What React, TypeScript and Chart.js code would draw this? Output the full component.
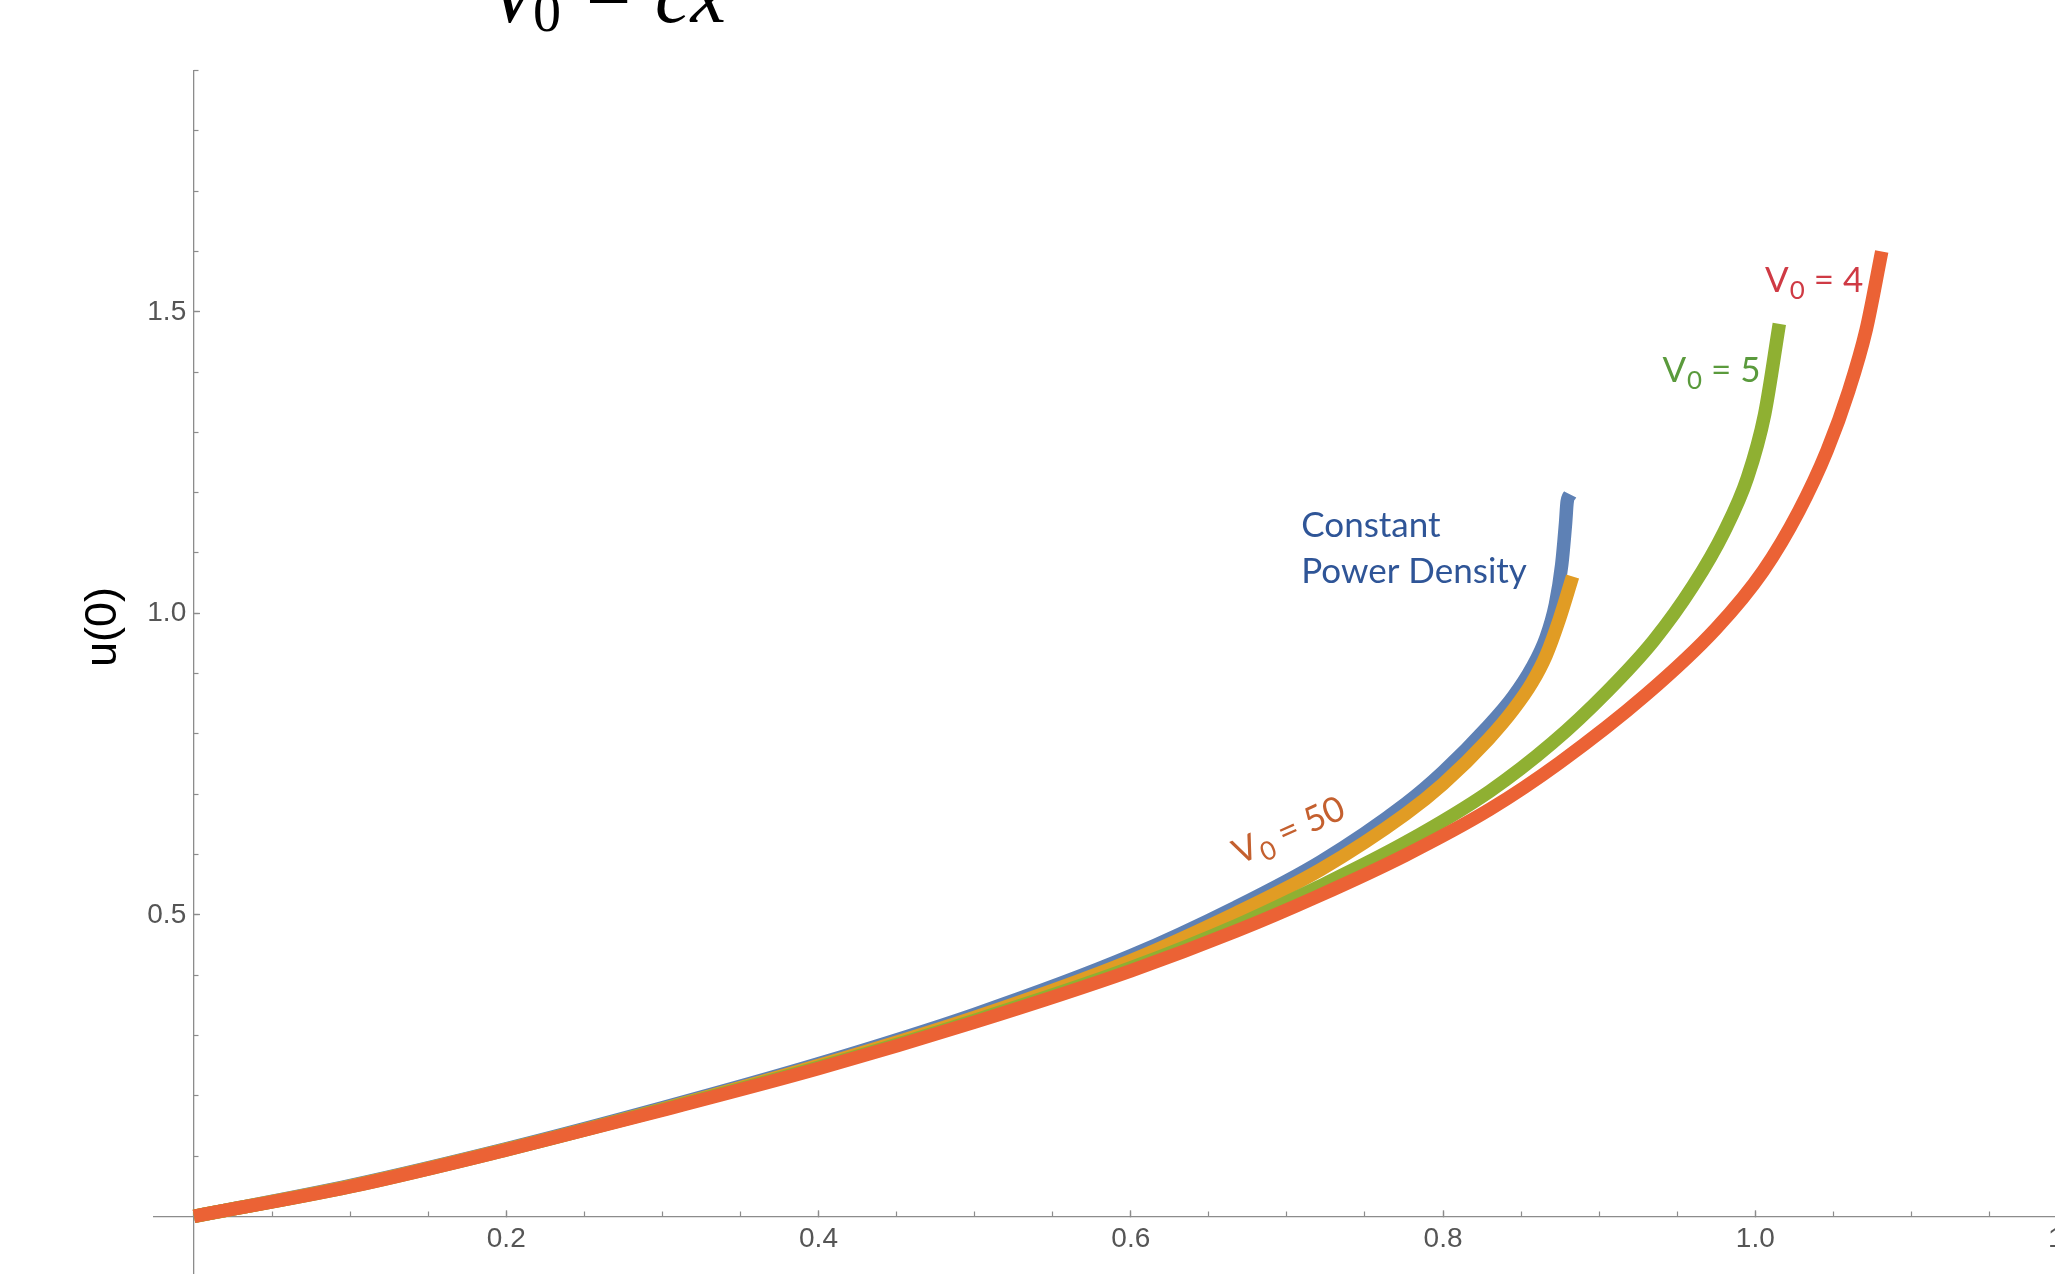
import React, { useEffect, useRef } from 'react';
import { Chart, registerables } from 'chart.js';

Chart.register(...registerables);

// ---- data ----
const X_V4 = [0, 0.1, 0.2, 0.3, 0.4, 0.5, 0.6, 0.6675, 0.72, 0.776, 0.83, 0.8745, 0.93, 0.975, 1.005, 1.028, 1.046, 1.06, 1.071, 1.081];
const Y_V4 = [0, 0.049, 0.11, 0.176, 0.245, 0.322, 0.407, 0.473, 0.531, 0.599, 0.675, 0.752, 0.865, 0.975, 1.07, 1.17, 1.27, 1.37, 1.47, 1.6];

const X_V5 = [0, 0.1, 0.2, 0.3, 0.4, 0.5, 0.6, 0.6675, 0.72, 0.776, 0.83, 0.87, 0.905, 0.935, 0.96, 0.98, 0.995, 1.006, 1.0154];
const Y_V5 = [0, 0.049, 0.11, 0.177, 0.247, 0.325, 0.412, 0.482, 0.546, 0.62, 0.705, 0.785, 0.87, 0.955, 1.045, 1.135, 1.225, 1.33, 1.48];

const X_V50 = [0, 0.1, 0.2, 0.3, 0.4, 0.5, 0.6, 0.6675, 0.7216, 0.776, 0.8, 0.829, 0.845, 0.857, 0.866, 0.8745, 0.883];
const Y_V50 = [0, 0.05, 0.111, 0.178, 0.25, 0.33, 0.424, 0.503, 0.575, 0.667, 0.717, 0.791, 0.84, 0.885, 0.93, 0.99, 1.061];

const X_CPD = [0, 0.1, 0.2, 0.3, 0.4, 0.5, 0.6, 0.6675, 0.7216, 0.776, 0.8, 0.829, 0.845, 0.857, 0.866, 0.872, 0.876, 0.8785, 0.8795, 0.8815];
const Y_CPD = [0, 0.051, 0.112, 0.18, 0.253, 0.335, 0.432, 0.513, 0.588, 0.684, 0.737, 0.813, 0.862, 0.91, 0.96, 1.015, 1.08, 1.15, 1.185, 1.197];

const X_MAJOR_TICKS = [0.2, 0.4, 0.6, 0.8, 1.0, 1.2];
const Y_MAJOR_TICKS = [0.5, 1.0, 1.5];

const X_MIN = -0.026, X_MAX = 1.2, Y_MIN = -0.1, Y_MAX = 1.9;

const COLORS = { v4: '#EB6235', v5: '#8FB032', v50: '#E19C24', cpd: '#5E81B5' };

const toPoints = (xs: number[], ys: number[]) => xs.map((x, i) => ({ x, y: ys[i] }));

const minorTicks = (lo: number, hi: number, step: number) => {
  const out: number[] = [];
  for (let k = Math.ceil(lo / step - 1e-9); k * step <= hi + 1e-9; k++) out.push(Math.round(k * step * 1000) / 1000);
  return out;
};

const TICK_FONT = { family: 'Liberation Sans', size: 28 };
const TICK_COLOR = '#555555';
const AXIS_COLOR = '#8c8c8c';
const LABEL_SIZE = 35;

function drawV(ctx: CanvasRenderingContext2D, x: number, y: number, rest: string, color: string, size: number) {
  ctx.fillStyle = color;
  ctx.textAlign = 'left';
  ctx.textBaseline = 'alphabetic';
  ctx.font = `${size}px Lato`;
  ctx.fillText('V', x, y);
  const w1 = ctx.measureText('V').width;
  ctx.font = `${size * 0.74}px Lato`;
  ctx.fillText('0', x + w1 + 1, y + size * 0.22);
  const w2 = ctx.measureText('0').width;
  ctx.font = `${size}px Lato`;
  ctx.fillText(rest, x + w1 + w2 + 1, y);
}

function vWidth(ctx: CanvasRenderingContext2D, rest: string, size: number) {
  ctx.font = `${size}px Lato`;
  const w1 = ctx.measureText('V').width;
  const w3 = ctx.measureText(rest).width;
  ctx.font = `${size * 0.74}px Lato`;
  const w2 = ctx.measureText('0').width;
  return w1 + w2 + w3 + 1;
}

const annotations = {
  id: 'annotations',
  afterDatasetsDraw(chart: any) {
    const { ctx, scales } = chart;
    const sx = scales.x, sy = scales.y;
    ctx.save();
    drawV(ctx, sx.getPixelForValue(1.0062), sy.getPixelForValue(1.5333), ' = 4', '#CF3A44', LABEL_SIZE);
    drawV(ctx, sx.getPixelForValue(0.9405), sy.getPixelForValue(1.3841), ' = 5', '#5A9A3C', LABEL_SIZE);
    ctx.fillStyle = '#2F5597';
    ctx.font = '35px Lato';
    ctx.textAlign = 'left';
    ctx.textBaseline = 'alphabetic';
    ctx.fillText('Constant', sx.getPixelForValue(0.7092), sy.getPixelForValue(1.127));
    ctx.fillText('Power Density', sx.getPixelForValue(0.7092), sy.getPixelForValue(1.0502));
    const cx = sx.getPixelForValue(0.701), cy = sy.getPixelForValue(0.6406);
    ctx.translate(cx, cy);
    ctx.rotate(-24 * Math.PI / 180);
    const w = vWidth(ctx, ' = 50', LABEL_SIZE);
    drawV(ctx, -w / 2, 12, ' = 50', '#C4602F', LABEL_SIZE);
    ctx.restore();

    ctx.save();
    ctx.translate(104, 627);
    ctx.rotate(-Math.PI / 2);
    ctx.fillStyle = '#000';
    ctx.font = '45px "Liberation Sans"';
    ctx.textAlign = 'center';
    ctx.textBaseline = 'middle';
    ctx.fillText('u(0)', 0, 0);
    ctx.restore();

    ctx.save();
    ctx.fillStyle = '#000';
    ctx.textAlign = 'left';
    ctx.textBaseline = 'alphabetic';
    ctx.font = 'italic 80px "Liberation Serif"';
    ctx.fillText('V', 488, 22);
    ctx.font = '56px "Liberation Serif"';
    ctx.fillText('0', 533, 31);
    ctx.font = '80px "Liberation Serif"';
    ctx.fillText('=', 586, 20);
    ctx.font = 'italic 80px "Liberation Serif"';
    ctx.fillText('cx', 655, 22);
    ctx.restore();
  },
};

export default function App() {
  const ref = useRef<HTMLCanvasElement>(null);

  useEffect(() => {
    const lineDs = (label: string, xs: number[], ys: number[], color: string) => ({
      label,
      data: toPoints(xs, ys),
      borderColor: color,
      backgroundColor: color,
      borderWidth: 13.5,
      pointRadius: 0,
      fill: false,
      cubicInterpolationMode: 'monotone' as const,
      borderCapStyle: 'butt' as const,
      borderJoinStyle: 'round' as const,
    });

    const chart = new Chart(ref.current!, {
      type: 'line',
      data: {
        datasets: [
          lineDs('V0 = 4', X_V4, Y_V4, COLORS.v4),
          lineDs('V0 = 5', X_V5, Y_V5, COLORS.v5),
          lineDs('V0 = 50', X_V50, Y_V50, COLORS.v50),
          lineDs('Constant Power Density', X_CPD, Y_CPD, COLORS.cpd),
        ],
      },
      options: {
        animation: false,
        responsive: false,
        devicePixelRatio: 1,
        events: [],
        layout: { padding: { left: 153.4, top: 70.6, right: 31.6, bottom: 23.4 } },
        plugins: { legend: { display: false }, tooltip: { enabled: false }, title: { display: false } },
        scales: {
          x: {
            type: 'linear', min: X_MIN, max: X_MAX, position: { y: 0 } as any,
            afterBuildTicks: (a: any) => { a.ticks = X_MAJOR_TICKS.map((v) => ({ value: v })); },
            afterFit: (a: any) => { a.height = 0; },
            grid: { drawOnChartArea: false, drawTicks: true, tickLength: -7, tickColor: AXIS_COLOR, tickWidth: 1.3 },
            border: { display: true, color: AXIS_COLOR, width: 1.3 },
            ticks: { autoSkip: false, maxRotation: 0, minRotation: 0, padding: 13, color: TICK_COLOR, font: TICK_FONT,
              callback: (v: any) => Number(v).toFixed(1) },
          },
          x2: {
            type: 'linear', axis: 'x', min: X_MIN, max: X_MAX, position: { y: 0 } as any,
            afterBuildTicks: (a: any) => { a.ticks = minorTicks(0, X_MAX, 0.05).map((v) => ({ value: v })); },
            afterFit: (a: any) => { a.height = 0; },
            grid: { drawOnChartArea: false, drawTicks: true, tickLength: -4.5, tickColor: AXIS_COLOR, tickWidth: 1.2 },
            border: { display: false },
            ticks: { display: false, autoSkip: false, maxRotation: 0 },
          },
          y: {
            type: 'linear', min: Y_MIN, max: Y_MAX, position: { x: 0 } as any,
            afterBuildTicks: (a: any) => { a.ticks = Y_MAJOR_TICKS.map((v) => ({ value: v })); },
            afterFit: (a: any) => { a.width = 0; },
            grid: { drawOnChartArea: false, drawTicks: true, tickLength: -7, tickColor: AXIS_COLOR, tickWidth: 1.3 },
            border: { display: true, color: AXIS_COLOR, width: 1.3 },
            ticks: { autoSkip: false, color: TICK_COLOR, font: TICK_FONT, callback: (v: any) => Number(v).toFixed(1) + ' ' },
          },
          y2: {
            type: 'linear', axis: 'y', min: Y_MIN, max: Y_MAX, position: { x: 0 } as any,
            afterBuildTicks: (a: any) => { a.ticks = minorTicks(0.1, Y_MAX, 0.1).map((v) => ({ value: v })); },
            afterFit: (a: any) => { a.width = 0; },
            grid: { drawOnChartArea: false, drawTicks: true, tickLength: -4.5, tickColor: AXIS_COLOR, tickWidth: 1.2 },
            border: { display: false },
            ticks: { display: false, autoSkip: false },
          },
        },
      } as any,
      plugins: [annotations],
    });
    return () => chart.destroy();
  }, []);

  return (
    <div style={{ position: 'fixed', left: 0, top: 0, width: 2055, height: 1274, overflow: 'hidden', background: '#fff' }}>
      <canvas ref={ref} width={2100} height={1300} style={{ display: 'block', width: 2100, height: 1300 }} />
    </div>
  );
}
